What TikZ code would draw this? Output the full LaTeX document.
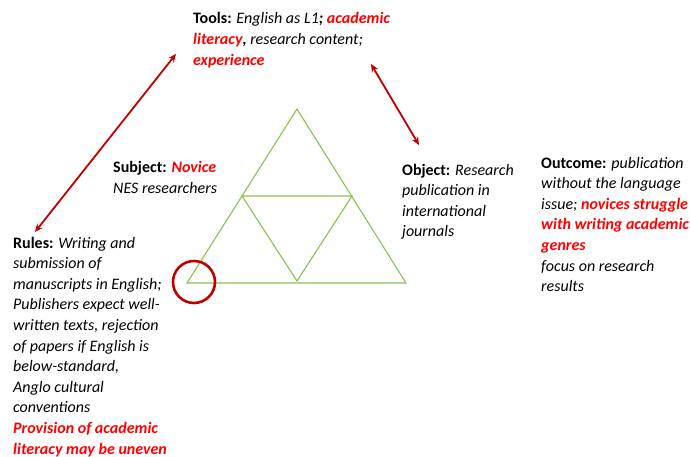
\documentclass[tikz,border=0pt]{standalone}
\usepackage{fontspec}
\setmainfont{Carlito}
\usetikzlibrary{arrows.meta}
\definecolor{triGreen}{HTML}{8CC152}
\definecolor{darkRed}{HTML}{C00000}
\definecolor{hiRed}{HTML}{FF0000}
\newcommand{\hi}[1]{\textcolor{hiRed}{\bfseries\itshape #1}}
\begin{document}
\begin{tikzpicture}[x=1pt,y=-1pt,
  tri/.style={draw=triGreen,line width=1.1pt},
  link/.style={draw=darkRed,line width=1.8pt,{Stealth[length=8pt,width=7pt]}-{Stealth[length=8pt,width=7pt]}},
  label/.style={anchor=base west,inner sep=0pt,align=left,font=\fontsize{16}{20.6}\selectfont\itshape}
]
\useasboundingbox (0,0) rectangle (690,457);
\fill[white] (0,0) rectangle (690,457);

% activity triangle and its midpoint triangle
\coordinate (top) at (297,109);
\coordinate (bl) at (187,283);
\coordinate (br) at (406,283);
\coordinate (ml) at (242,196);
\coordinate (mr) at (352,196);
\coordinate (mb) at (297,281);
\draw[tri] (top) -- (br) -- (bl) -- cycle;
\draw[tri] (ml) -- (mr) -- (mb) -- cycle;

% circle on the subject corner
\node[draw=darkRed,line width=2.6pt,circle,minimum size=42pt,inner sep=0pt] (ring) at (194,282) {};

% texts (each node is placed by the baseline of its last line)
\node[label] (tools) at (193,65.2) {\upshape\bfseries Tools: \itshape\mdseries English as L1\textbf{;} \hi{academic}\\
\hi{literacy}\textbf{,} research content;\\
\hi{experience}};

\node[label] (subject) at (113,193.6) {\upshape\bfseries Subject: \hi{Novice}\\
NES researchers};

\node[label] (object) at (402,236.8) {\upshape\bfseries Object: \itshape\mdseries Research\\
publication in\\
international\\
journals};

\node[label] (outcome) at (541,291.6) {\upshape\bfseries Outcome: \itshape\mdseries publication\\
without the language\\
issue; \hi{novices struggle}\\
\hi{with writing academic}\\
\hi{genres}\\
focus on research\\
results};

\node[label] (rules) at (13,454) {\upshape\bfseries Rules: \itshape\mdseries Writing and\\
submission of\\
manuscripts in English;\\
Publishers expect well-\\
written texts, rejection\\
of papers if English is\\
below-standard,\\
Anglo cultural\\
conventions\\
\hi{Provision of academic}\\
\hi{literacy may be uneven}};

% double-headed links
\coordinate (a1) at (35,232);
\coordinate (a2) at (176,54);
\coordinate (b1) at (371,64);
\coordinate (b2) at (419,145);
\draw[link] (a1) -- (a2);
\draw[link] (b1) -- (b2);
\end{tikzpicture}
\end{document}
